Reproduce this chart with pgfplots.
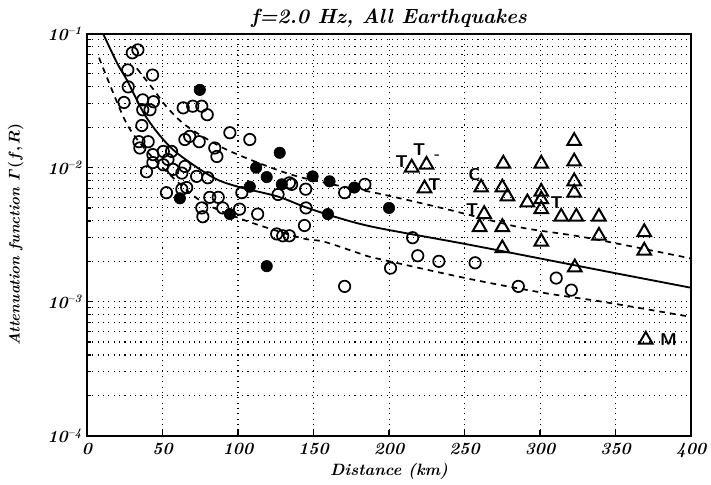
\documentclass[border=0pt]{standalone}
\usepackage{pgfplots}
\pgfplotsset{compat=1.18}
\usepackage{bm}
\begin{document}
\begin{tikzpicture}
\begin{axis}[
  scale only axis,
  width=423.5pt, height=282pt,
  xmin=0, xmax=400,
  ymode=log, ymin=1e-4, ymax=1e-1,
  xtick={0,50,...,400},
  xticklabels={0,50,100,150,200,250,300,350,400},
  ytick={1e-4,1e-3,1e-2,1e-1},
  yticklabels={10\textsuperscript{--4},10\textsuperscript{--3},10\textsuperscript{--2},10\textsuperscript{--1}},
  ticklabel style={font=\large\bfseries\itshape},
  xticklabel style={yshift=-2pt},
  tick align=inside, xtick pos=bottom, ytick pos=left,
  major tick length=4pt, minor tick length=3pt,
  every tick/.style={black, line width=0.8pt},
  xmajorgrids=true, ymajorgrids=true, yminorgrids=true,
  major grid style={black, line width=0.75pt, dash pattern=on 0.75pt off 3pt},
  minor grid style={black, line width=0.75pt, dash pattern=on 0.75pt off 3pt},
  axis line style={line width=1.4pt},
  every axis title/.style={at={(rel axis cs:0.5,1)}, anchor=center, yshift=11pt},
  title={\Large\bfseries\itshape f=2.0 Hz, All Earthquakes},
  every axis x label/.style={at={(rel axis cs:0.5,0)}, anchor=center, yshift=-25pt},
  xlabel={\fontsize{11.5}{13}\selectfont\bfseries\itshape Distance (km)},
  every axis y label/.style={at={(rel axis cs:0,0.5)}, anchor=center, xshift=-50pt, rotate=90},
  ylabel={\fontsize{10.5}{12}\selectfont\bfseries\itshape Attenuation function $\bm{\mathit{\Gamma}(f,R)}$},
  clip=true,
]
% solid curve
\addplot[black, line width=1.3pt, smooth] coordinates {
(10.6,0.1) (20,0.06) (26.4,0.045) (39.6,0.0234) (57,0.0136) (83,0.0085) (100,0.0072)
(126,0.0061) (144,0.0051) (164,0.0043) (190,0.0036) (250,0.0027) (300,0.0021)
(350,0.00163) (400,0.00127)};
% upper dashed curve
\addplot[black, line width=1.2pt, dash pattern=on 4pt off 3.5pt, smooth] coordinates {
(33,0.055) (45,0.037) (52.6,0.0285) (66,0.0204) (92.5,0.0136) (132,0.0091) (160,0.0076)
(196,0.0063) (238,0.0049) (286,0.0036) (331,0.0030) (400,0.0021)};
% lower dashed curve
\addplot[black, line width=1.2pt, dash pattern=on 4pt off 3.5pt, smooth] coordinates {
(8,0.066) (10.6,0.0555) (25,0.0227) (35,0.0153) (50,0.0100) (74.7,0.0057) (103,0.0041)
(141,0.0030) (157,0.0028) (182,0.00226) (192,0.0021) (253,0.00148) (301,0.00117)
(341,0.0010) (397,0.00078)};
% open circles
\addplot[only marks, mark=o, mark size=4pt, line width=1.2pt, black,
  mark options={fill=white}] table {
x y
30 0.0718
33.7 0.0755
27 0.0535
43.4 0.049
27.3 0.040
24.5 0.0306
36.9 0.032
44 0.031
41.7 0.027
36.9 0.027
63.7 0.0279
70 0.0287
76 0.0287
79.6 0.0248
36.3 0.0206
34.4 0.0156
40.5 0.0156
35.0 0.0140
64.8 0.0162
68 0.0171
74.3 0.0156
84.6 0.0140
86 0.0121
94.6 0.0182
107.8 0.0162
43.6 0.0125
43.6 0.0109
50.5 0.0132
56 0.0132
53.6 0.0115
39.4 0.0093
50.5 0.0105
57 0.0097
64.8 0.0102
62.8 0.0091
72.6 0.0086
80 0.0084
62.8 0.0069
66 0.0071
52.6 0.0065
81.3 0.0060
86.9 0.0060
76 0.0050
76.7 0.0043
89.9 0.0050
101 0.0049
113 0.0045
102.5 0.0065
126.5 0.0063
134 0.0077
145 0.0050
144 0.0037
125.6 0.0032
129.6 0.0031
134 0.0031
144.8 0.0069
135.5 0.0075
170.6 0.0065
184 0.0075
215.6 0.0030
219 0.0022
201 0.00178
233 0.0020
257 0.00195
285.6 0.0013
310.7 0.0015
320.7 0.00122
170.6 0.0013
};
% filled circles
\addplot[only marks, mark=*, mark size=4pt, black] table {
x y
74.7 0.038
127.6 0.0129
112 0.0100
119 0.0085
107.8 0.0072
61.5 0.0059
94.6 0.0045
149.4 0.0086
160.6 0.0079
159.5 0.0045
119 0.00184
129 0.0075
177 0.0071
200 0.0050
};
% triangles
\addplot[only marks, mark=triangle, mark size=5.5pt, line width=1.4pt, black,
  mark options={fill=white}] table {
x y
215 0.0100
224.8 0.0105
223.5 0.0070
261 0.0071
275.7 0.0107
300.8 0.0107
322.6 0.0158
322.6 0.0111
322.6 0.0079
322.6 0.0065
275 0.0071
278.4 0.0061
291.6 0.0055
300.8 0.0066
300.8 0.0058
300.8 0.0049
314 0.0043
324 0.0043
339 0.0043
339 0.0031
369 0.0033
369 0.0024
263 0.0045
260 0.0036
275 0.0036
275 0.0025
300.8 0.0028
323 0.0018
370 0.00052
};
% letters
\addplot[only marks, mark=none, nodes near coords, point meta=explicit symbolic,
  nodes near coords style={anchor=center, inner sep=0pt, font=\sffamily\bfseries\large, black}]
  table[meta=lab] {
x y lab
208.3 0.0111 T
220 0.0136 T
232 0.0120 -
230 0.0075 T
256.5 0.0089 C
255 0.0049 T
311 0.0055 T
385 0.00052 M
};
\end{axis}
\path ([xshift=-61pt,yshift=-33.6pt]current axis.south west) rectangle ([xshift=13.3pt,yshift=23.5pt]current axis.north east);
\end{tikzpicture}
\end{document}
